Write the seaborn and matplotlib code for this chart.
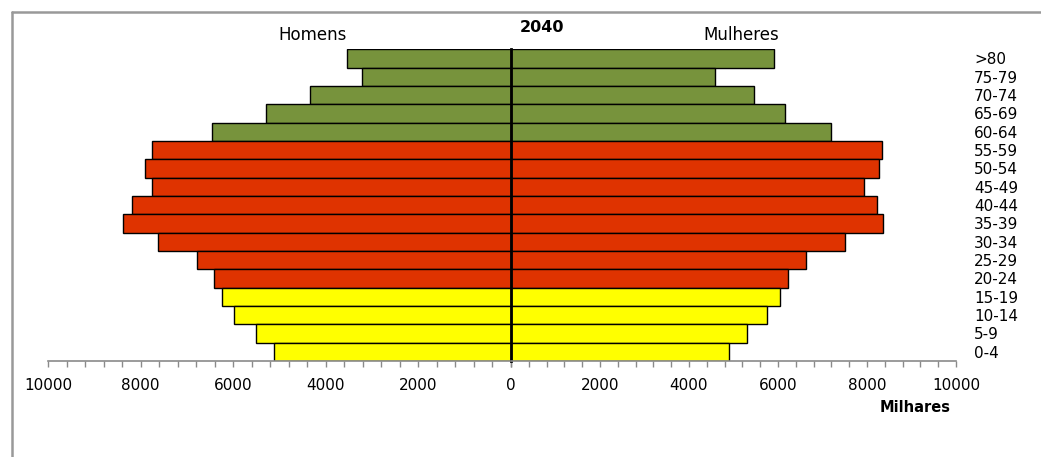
import matplotlib.pyplot as plt
import matplotlib.ticker as mticker
from matplotlib.lines import Line2D
import pandas as pd
import seaborn as sns

# dados (milhares), de cima para baixo
idades = [">80", "75-79", "70-74", "65-69", "60-64", "55-59", "50-54", "45-49",
          "40-44", "35-39", "30-34", "25-29", "20-24", "15-19", "10-14", "5-9", "0-4"]
homens = [3550, 3220, 4350, 5290, 6450, 7760, 7900, 7760,
          8190, 8380, 7620, 6780, 6420, 6240, 5980, 5510, 5110]
mulheres = [5900, 4590, 5470, 6160, 7180, 8340, 8260, 7940,
            8230, 8350, 7510, 6630, 6230, 6050, 5750, 5310, 4910]
grupos = ["60+", "60+", "60+", "60+", "60+",
          "20-59", "20-59", "20-59", "20-59", "20-59", "20-59", "20-59", "20-59",
          "0-19", "0-19", "0-19", "0-19"]
cores = {"60+": "#77933C", "20-59": "#DF3300", "0-19": "#FFFF00"}

df = pd.DataFrame({"idade": idades, "homens": homens, "mulheres": mulheres, "grupo": grupos})
paleta = [cores[g] for g in grupos]

sns.set_theme(style="white")
plt.rcParams["font.family"] = ["DejaVu Sans"]
plt.rcParams["text.color"] = "black"
plt.rcParams["xtick.color"] = "black"
plt.rcParams["ytick.color"] = "black"

W, H = 1041, 457
fig = plt.figure(figsize=(W / 100, H / 100), dpi=100)

bottom = (H - 361) / H
height = (361 - 49.3) / H
axl = fig.add_axes([48 / W, bottom, (511 - 48) / W, height])
axr = fig.add_axes([511 / W, bottom, (956 - 511) / W, height])

for ax, col in [(axl, "homens"), (axr, "mulheres")]:
    sns.barplot(data=df, x=col, y="idade", hue="idade", palette=paleta, legend=False,
                width=1.0, edgecolor="black", linewidth=1, errorbar=None,
                saturation=1, orient="h", ax=ax)
    ax.set_ylim(16.5, -0.5)
    ax.set_xlabel("")
    ax.set_ylabel("")
    ax.xaxis.set_major_locator(mticker.MultipleLocator(2000))
    ax.xaxis.set_minor_locator(mticker.MultipleLocator(400))
    ax.tick_params(axis="x", which="both", direction="out", length=4, width=1,
                   color="#8a8a8a", labelcolor="black", labelsize=11, pad=8, bottom=True)
    for s in ["top", "right", "left"]:
        ax.spines[s].set_visible(False)
    ax.spines["bottom"].set_color("#8a8a8a")
    ax.spines["bottom"].set_linewidth(1.2)
    ax.set_facecolor("none")

axl.set_xlim(10000, 0)
axl.tick_params(axis="y", left=False, labelleft=False)

axr.set_xlim(0, 10000)
axr.xaxis.set_major_formatter(mticker.FuncFormatter(lambda v, p: "" if v == 0 else f"{v:.0f}"))
axr.spines["left"].set_visible(True)
axr.spines["left"].set_color("black")
axr.spines["left"].set_linewidth(2)
axr.yaxis.tick_right()
axr.tick_params(axis="y", length=0, pad=13, labelsize=11, labelcolor="black")

fig.text(313 / W, 1 - 35 / H, "Homens", ha="center", va="center", fontsize=12)
fig.text(741 / W, 1 - 35 / H, "Mulheres", ha="center", va="center", fontsize=12)
fig.text(542 / W, 1 - 27 / H, "2040", ha="center", va="center", fontsize=11.5, fontweight="bold")
fig.text(915 / W, 1 - 407 / H, "Milhares", ha="center", va="center", fontsize=10.5, fontweight="bold")

# moldura cinzenta
fig.add_artist(Line2D([11.5 / W, 11.5 / W], [0, 1 - 12 / H], color="#999999", lw=1.8))
fig.add_artist(Line2D([11.5 / W, 1], [1 - 12 / H, 1 - 12 / H], color="#999999", lw=1.8))

fig.savefig("out.png", dpi=100)
